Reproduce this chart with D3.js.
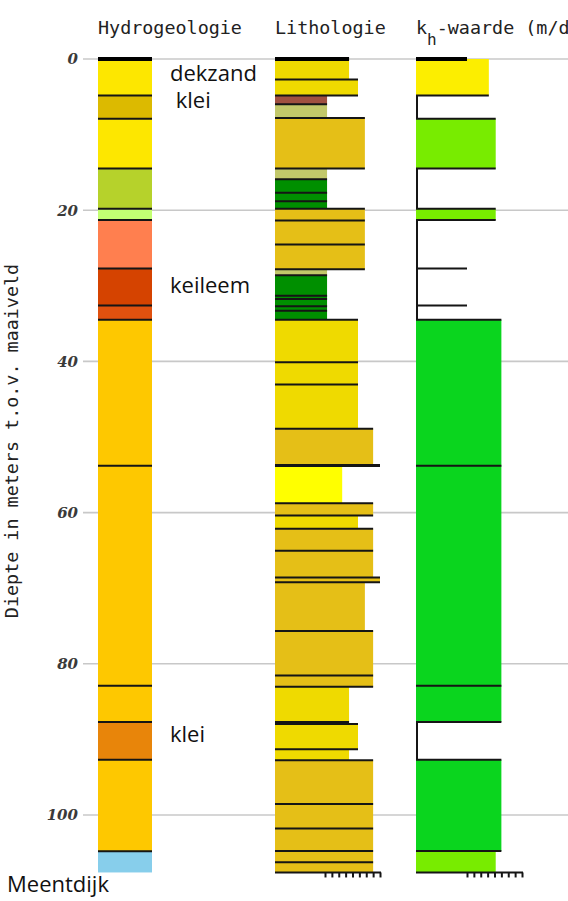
<!DOCTYPE html>
<html lang="nl">
  <head>
    <meta charset="UTF-8" />
    <title>Boorprofiel Meentdijk</title>
    <script src="https://d3js.org/d3.v7.min.js"></script>
    <style>
      body {
        margin: 0;
        background: #fff;
      }
      .kop {
        font: 18.4px "DejaVu Sans Mono", monospace;
        fill: #222;
      }
      .diepte {
        font: italic bold 15px "DejaVu Serif", serif;
        fill: #3a3a3a;
      }
      .grid {
        stroke: #c8c8c8;
        stroke-width: 1.6;
      }
      .grens {
        stroke: #151515;
        stroke-width: 2;
      }
      .maaiveld {
        stroke: #000;
        stroke-width: 4;
      }
      .noot {
        font: 22px "Open Sans", sans-serif;
        fill: #111;
        white-space: pre;
      }
      .schaal line,
      .schaal path {
        stroke: #151515;
        stroke-width: 2;
      }
    </style>
  </head>
  <body>
    <svg width="568" height="901"></svg>
    <script>
      // Diepte (m t.o.v. maaiveld)
      var endDepth = 107.6;
      var depthTicks = [0, 20, 40, 60, 80, 100];

      // Hydrogeologie: bovenkant laag + eenheid
      var hydroTops = [0, 4.83, 7.9, 14.5, 19.8, 21.3, 27.7, 32.6, 34.5, 53.8, 82.9, 87.7, 92.7, 104.8];
      var hydroUnits = ["zand A", "klei A", "zand A", "zand B", "zand C", "leem A", "keileem",
        "leem B", "zand D", "zand D", "zand D", "klei B", "zand D", "basis"];

      // Lithologie: bovenkant laag, grondsoort, korrelklasse
      var lithoTops = [0, 2.7, 4.83, 6.0, 7.8, 14.5, 15.9, 17.7, 18.8, 19.8, 21.35, 24.55, 27.8,
        28.6, 31.3, 31.75, 32.7, 33.3, 34.5, 40.1, 43.05, 48.9, 53.7, 53.85, 58.75, 60.4, 62.15,
        65.05, 68.6, 69.2, 75.65, 81.55, 83.05, 87.7, 87.95, 91.3, 92.75, 98.55, 101.8, 104.75, 106.25];
      var lithoClasses = ["zand fijn", "zand fijn", "veen", "leem", "zand grof", "leem", "klei",
        "klei", "klei", "zand grof", "zand grof", "zand grof", "leem", "klei", "klei", "klei", "klei",
        "klei", "zand fijn", "zand fijn", "zand fijn", "zand grof", "zand grof", "zand zeer fijn",
        "zand grof", "zand fijn", "zand grof", "zand grof", "zand grof", "zand grof", "zand grof",
        "zand grof", "zand fijn", "zand fijn", "zand fijn", "zand fijn", "zand grof", "zand grof",
        "zand grof", "zand grof", "zand grof"];
      var lithoValues = [3.5, 4.8, 0.3, 0.3, 5.8, 0.3, 0.3, 0.3, 0.3, 5.8, 5.8, 5.8, 0.3, 0.3, 0.3,
        0.3, 0.3, 0.3, 4.8, 4.8, 4.8, 7, 8, 2.5, 7, 4.8, 7, 7, 8, 5.8, 7, 7, 3.5, 3.5, 4.8, 3.5,
        7, 7, 7, 7, 7];
      var lithoScaleTicks = [0, 1, 2, 3, 4, 5, 6, 7, 8];

      // k_h-waarde (m/d), null = geen waarde
      var khTops = [0, 4.83, 7.9, 14.5, 19.8, 21.3, 27.7, 32.6, 34.5, 53.8, 82.9, 87.7, 92.7, 104.75];
      var khValues = [1.5, null, 15, null, 15, null, null, null, 100, 100, 100, null, 100, 15];
      var khScaleTicks = [1e-3, 1e-2, 1e-1, 1, 10, 100, 1e3, 1e4, 1e5];

      // Teksten
      var columnTitles = ["Hydrogeologie", "Lithologie"];
      var noteTexts = ["dekzand", " klei", "keileem", "klei"];
      var noteDepths = [2.87, 6.48, 31.0, 90.3];
      var boreName = "Meentdijk";

      var hydroColors = {
        "zand A": "#fde700",
        "klei A": "#dcba00",
        "zand B": "#b6d22b",
        "zand C": "#c3ff73",
        "leem A": "#ff7f4f",
        "keileem": "#d54300",
        "leem B": "#e0510f",
        "zand D": "#fec800",
        "klei B": "#e8850a",
        "basis": "#87ceeb"
      };
      var lithoColors = {
        "zand fijn": "#efda00",
        "zand grof": "#e5bf17",
        "zand zeer fijn": "#ffff00",
        "veen": "#a05040",
        "leem": "#c2c86a",
        "klei": "#008f00"
      };
      var khColor = d3.scaleThreshold().domain([10, 50]).range(["#fcee00", "#78ec00", "#0ad51e"]);

      var svg = d3.select("svg");
      var y = d3.scaleLinear().domain([0, 100]).range([59, 815]);

      var hydroLeft = 98, hydroRight = 152;
      var lithoLeft = 275;
      var xLitho = d3.scaleLinear().domain([0, 8]).range([325, 380]);
      var khLeft = 416;
      var xKh = d3.scaleLog().domain([1e-3, 1e5]).range([467, 522]);

      function layers(tops) {
        return tops.map(function (t, i) {
          return { i: i, top: t, bottom: i < tops.length - 1 ? tops[i + 1] : endDepth };
        });
      }

      // Gridlijnen en dieptelabels
      svg.append("g")
        .selectAll("line")
        .data(depthTicks)
        .join("line")
        .attr("class", "grid")
        .attr("x1", 83)
        .attr("x2", 568)
        .attr("y1", function (d) { return y(d); })
        .attr("y2", function (d) { return y(d); });

      svg.append("g")
        .selectAll("text")
        .data(depthTicks)
        .join("text")
        .attr("class", "diepte")
        .attr("x", 78)
        .attr("y", function (d) { return y(d); })
        .attr("dy", "0.36em")
        .attr("text-anchor", "end")
        .text(function (d) { return d; });

      // Hydrogeologie
      var hydro = svg.append("g");
      hydro.selectAll("rect")
        .data(layers(hydroTops))
        .join("rect")
        .attr("x", hydroLeft)
        .attr("width", hydroRight - hydroLeft)
        .attr("y", function (d) { return y(d.top); })
        .attr("height", function (d) { return y(d.bottom) - y(d.top); })
        .attr("fill", function (d) { return hydroColors[hydroUnits[d.i]]; });
      hydro.selectAll("line")
        .data(hydroTops.slice(1))
        .join("line")
        .attr("class", "grens")
        .attr("x1", hydroLeft)
        .attr("x2", hydroRight)
        .attr("y1", function (d) { return y(d); })
        .attr("y2", function (d) { return y(d); });
      hydro.append("line")
        .attr("class", "maaiveld")
        .attr("x1", hydroLeft)
        .attr("x2", hydroRight)
        .attr("y1", y(0))
        .attr("y2", y(0));

      // Lithologie
      var litho = svg.append("g");
      litho.selectAll("rect")
        .data(layers(lithoTops))
        .join("rect")
        .attr("x", lithoLeft)
        .attr("width", function (d) { return xLitho(lithoValues[d.i]) - lithoLeft; })
        .attr("y", function (d) { return y(d.top); })
        .attr("height", function (d) { return y(d.bottom) - y(d.top); })
        .attr("fill", function (d) { return lithoColors[lithoClasses[d.i]]; });
      litho.selectAll("line.grens")
        .data(layers(lithoTops).slice(1))
        .join("line")
        .attr("class", "grens")
        .attr("x1", lithoLeft)
        .attr("x2", function (d) {
          return xLitho(Math.max(lithoValues[d.i - 1], lithoValues[d.i]));
        })
        .attr("y1", function (d) { return y(d.top); })
        .attr("y2", function (d) { return y(d.top); });
      litho.append("line")
        .attr("class", "maaiveld")
        .attr("x1", lithoLeft)
        .attr("x2", xLitho(lithoValues[0]))
        .attr("y1", y(0))
        .attr("y2", y(0));

      // k_h-waarde
      var khMin = xKh.domain()[0];
      var kh = svg.append("g");
      var khLayers = layers(khTops);
      kh.selectAll("rect")
        .data(khLayers.filter(function (d) { return khValues[d.i] != null; }))
        .join("rect")
        .attr("x", khLeft)
        .attr("width", function (d) { return xKh(khValues[d.i]) - khLeft; })
        .attr("y", function (d) { return y(d.top); })
        .attr("height", function (d) { return y(d.bottom) - y(d.top); })
        .attr("fill", function (d) { return khColor(khValues[d.i]); });
      // lagen zonder waarde: alleen linkerrand
      kh.selectAll("line.leeg")
        .data(khLayers.filter(function (d) { return khValues[d.i] == null; }))
        .join("line")
        .attr("class", "grens leeg")
        .attr("x1", khLeft + 1)
        .attr("x2", khLeft + 1)
        .attr("y1", function (d) { return y(d.top); })
        .attr("y2", function (d) { return y(d.bottom); });
      kh.selectAll("line.rand")
        .data(khLayers.slice(1))
        .join("line")
        .attr("class", "grens rand")
        .attr("x1", khLeft)
        .attr("x2", function (d) {
          var a = khValues[d.i - 1] == null ? khMin : khValues[d.i - 1];
          var b = khValues[d.i] == null ? khMin : khValues[d.i];
          return xKh(Math.max(a, b));
        })
        .attr("y1", function (d) { return y(d.top); })
        .attr("y2", function (d) { return y(d.top); });
      kh.append("line")
        .attr("class", "maaiveld")
        .attr("x1", khLeft)
        .attr("x2", xKh(khMin))
        .attr("y1", y(0))
        .attr("y2", y(0));

      // Schaalbalkjes onderaan
      var yEnd = y(endDepth);
      [[lithoLeft, xLitho, lithoScaleTicks], [khLeft, xKh, khScaleTicks]].forEach(function (c) {
        var g = svg.append("g").attr("class", "schaal");
        g.append("line")
          .attr("x1", c[0])
          .attr("x2", c[1].range()[1] + 1)
          .attr("y1", yEnd)
          .attr("y2", yEnd);
        var ax = g.append("g")
          .attr("transform", "translate(0," + yEnd + ")")
          .call(d3.axisBottom(c[1]).tickValues(c[2]).tickSize(5).tickSizeOuter(0).tickFormat(""));
        ax.select(".domain").remove();
      });

      // Kolomkoppen
      svg.selectAll("text.kop")
        .data(columnTitles)
        .join("text")
        .attr("class", "kop")
        .attr("x", function (d, i) { return [hydroLeft, lithoLeft][i]; })
        .attr("y", 34)
        .text(function (d) { return d; });

      var khTitle = svg.append("text").attr("class", "kop").attr("x", khLeft).attr("y", 34);
      khTitle.append("tspan").text("k");
      khTitle.append("tspan").attr("dy", 11).style("font-size", "16px").text("h");
      khTitle.append("tspan").attr("dy", -11).text("-waarde (m/d)");

      // As-titel
      svg.append("text")
        .attr("class", "kop")
        .attr("transform", "translate(18," + (y(50) + 4) + ") rotate(-90)")
        .attr("text-anchor", "middle")
        .text("Diepte in meters t.o.v. maaiveld");

      // Aantekeningen
      svg.append("g")
        .selectAll("text")
        .data(noteTexts)
        .join("text")
        .attr("class", "noot")
        .attr("x", hydroRight + 18)
        .attr("y", function (d, i) { return y(noteDepths[i]); })
        .text(function (d) { return d; });

      svg.append("text")
        .attr("class", "noot")
        .attr("x", 7)
        .attr("y", 892)
        .text(boreName);
    </script>
  </body>
</html>
